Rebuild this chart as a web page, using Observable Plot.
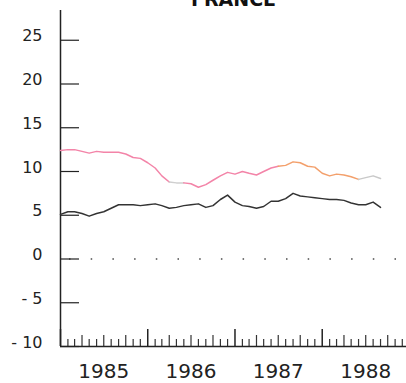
<!DOCTYPE html>
<html><head><meta charset="utf-8">
<script src="https://cdn.jsdelivr.net/npm/d3@7"></script>
<script src="https://cdn.jsdelivr.net/npm/@observablehq/plot@0.6"></script>
<style>body{margin:0;background:#fff;overflow:hidden}</style>
</head><body><div id="chart"></div>
<script>
const title = "FRANCE";
const yearLabels = [1985, 1986, 1987, 1988];
const yTicks = [25, 20, 15, 10, 5, 0, -5, -10];
// monthly values, Jan 1985 .. Sep 1988
const pinkSeries = [12.4,12.5,12.5,12.3,12.1,12.3,12.2,12.2,12.2,12.0,11.6,11.5,
  11.0,10.4,9.5,8.8,8.7,8.7,8.6,8.2,8.5,9.0,9.5,9.9,
  9.7,10.0,9.8,9.6,10.0,10.4,10.6,10.7,11.1,11.0,10.6,10.5,
  9.8,9.5,9.7,9.6,9.4,9.1,9.3,9.5,9.2];
const blackSeries = [5.1,5.4,5.4,5.2,4.9,5.2,5.4,5.8,6.2,6.2,6.2,6.1,
  6.2,6.3,6.1,5.8,5.9,6.1,6.2,6.3,5.9,6.1,6.8,7.3,
  6.5,6.1,6.0,5.8,6.0,6.6,6.6,6.9,7.5,7.2,7.1,7.0,
  6.9,6.8,6.8,6.7,6.4,6.2,6.2,6.5,5.9];
const segStarts = [0, 15, 17, 30, 41];
const segEnds = [15, 17, 30, 41, 44];
const segColors = ["#f384a8", "#cfcfcf", "#f384a8", "#f3a06c", "#c9c9c9"];

const dateOf = i => new Date(Date.UTC(1985, i, 1));
const pinkRows = segStarts.flatMap((s, k) => d3.range(s, segEnds[k] + 1).map(i => ({date: dateOf(i), value: pinkSeries[i], seg: k, color: segColors[k]})));
const blackRows = blackSeries.map((v, i) => ({date: dateOf(i), value: v}));
const nMonths = yearLabels.length * 12;
const yearTicks = d3.range(0, nMonths + 1, 12).map(dateOf);
const quarterTicks = d3.range(0, nMonths).filter(i => i % 3 === 0 && i % 12 !== 0).map(dateOf);
const monthTicks = d3.range(0, nMonths).filter(i => i % 3 !== 0).map(dateOf);
const midYears = yearLabels.map(y => new Date(Date.UTC(y, 6, 1)));
const fh = 383 - 10 - 37;

const chart = Plot.plot({
  width: 406, height: 383,
  marginLeft: 60, marginRight: 0, marginTop: 10, marginBottom: 37,
  style: {fontFamily: "DejaVu Sans", fontSize: "16px", color: "#222", background: "#fff"},
  x: {type: "utc", domain: [dateOf(0), dateOf(nMonths)], range: [60, 409.2]},
  y: {domain: [-10, 28.4]},
  marks: [
    Plot.ruleY([0], {stroke: "#777", strokeWidth: 2, strokeDasharray: "1.5,20.2", strokeDashoffset: 12.7}),
    Plot.ruleY(yTicks, {insetRight: 346 - 19, stroke: "#222", strokeWidth: 1.2}),
    Plot.ruleX(yearTicks, {insetTop: fh - 17, stroke: "#222", strokeWidth: 1.5}),
    Plot.ruleX(quarterTicks, {insetTop: fh - 11, stroke: "#333", strokeWidth: 1.2}),
    Plot.ruleX(monthTicks, {insetTop: fh - 7, stroke: "#333", strokeWidth: 1.2}),
    Plot.ruleX([dateOf(0)], {stroke: "#222", strokeWidth: 1.5}),
    Plot.ruleY([-10], {stroke: "#222", strokeWidth: 1.5}),
    Plot.axisY({ticks: yTicks, tickSize: 0, tickPadding: 18, dy: -4, fontSize: 16, label: null,
      tickFormat: d => d < 0 ? "- " + (-d) : String(d)}),
    Plot.axisX({ticks: midYears, tickSize: 0, tickPadding: 17.5, fontSize: 20, label: null,
      tickFormat: d => String(d.getUTCFullYear())}),
    Plot.line(blackRows, {x: "date", y: "value", stroke: "#333", strokeWidth: 1.5}),
    Plot.line(pinkRows, {x: "date", y: "value", z: "seg", stroke: "color", strokeWidth: 1.5}),
    Plot.text([title], {frameAnchor: "top", dy: -11, fontSize: 19, fontWeight: "bold", fill: "#111", lineAnchor: "middle"})
  ]
});
document.getElementById("chart").appendChild(chart);
</script>
</body></html>
